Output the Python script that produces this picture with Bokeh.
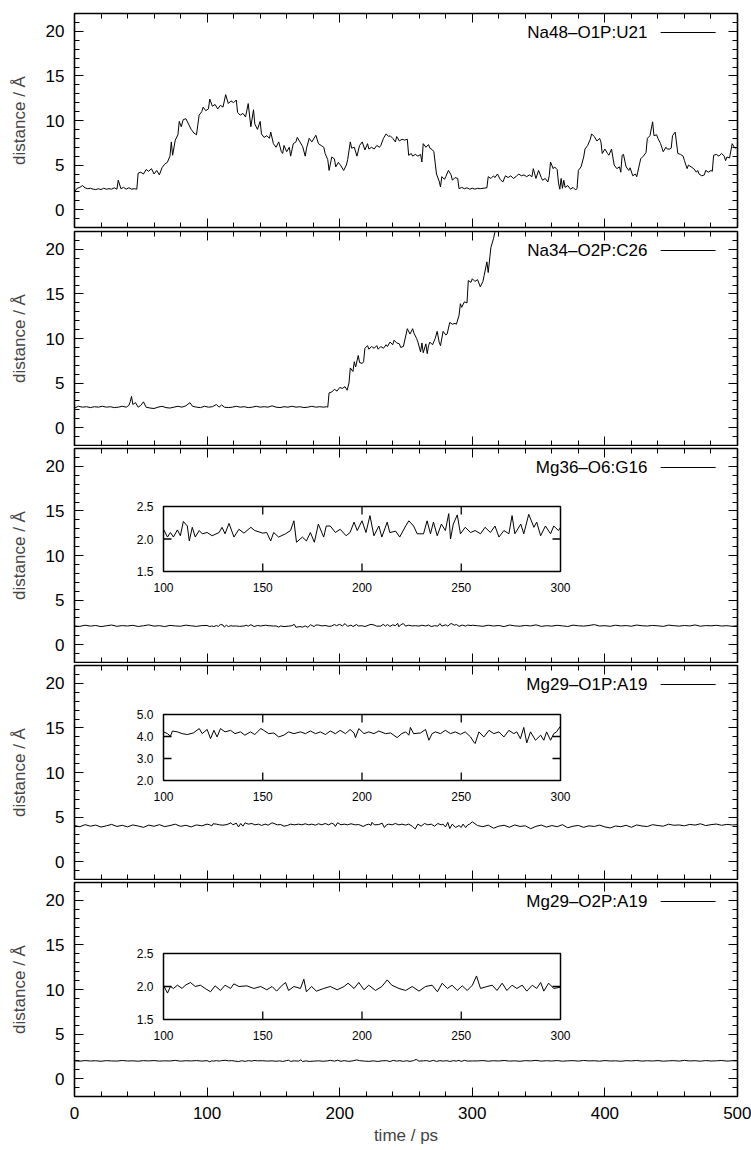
import math
from bokeh.plotting import figure
from bokeh.models import Range1d, LinearAxis, SingleIntervalTicker
from bokeh.layouts import column
from bokeh.embed import file_html
from bokeh.resources import INLINE
from bokeh.core.properties import value

# ---------------- data (time / ps, distance / Angstrom) ----------------
NA48_O1P_U21 = [
    (0, 2.0), (2, 2.4), (4, 2.5), (6, 2.7), (8, 2.45), (10, 2.35), (12, 2.4), (14, 2.3), (16, 2.25), (18, 2.35),
    (20, 2.25), (22, 2.4), (24, 2.3), (26, 2.35), (28, 2.3), (30, 2.45), (32, 2.3), (33, 3.3), (35, 2.35), (37, 2.5),
    (39, 2.3), (41, 2.45), (43, 2.3), (45, 2.35), (47, 2.3), (48, 4.1), (50, 4.2), (52, 4.0), (54, 4.5), (56, 4.3),
    (58, 4.6), (60, 4.0), (62, 4.4), (64, 3.9), (66, 4.7), (68, 5.1), (70, 5.3), (72, 6.0), (73, 7.6), (74, 6.1),
    (76, 7.8), (78, 8.4), (79, 9.9), (80.5, 9.3), (82, 10.1), (84, 10.2), (86, 9.6), (88, 9.0), (90, 8.6), (92, 8.4),
    (94, 10.6), (96, 11.0), (97, 11.5), (99, 11.1), (101, 11.3), (102, 12.4), (104, 11.6), (106, 11.8), (108, 11.3),
    (110, 11.7), (112, 11.5), (114, 12.9), (116, 11.9), (118, 12.2), (120, 12.0), (122, 12.3), (123, 10.9), (125, 10.6),
    (127, 10.8), (129, 10.4), (131, 11.9), (133, 9.3), (135, 11.2), (136, 9.6), (138, 9.0), (140, 9.9), (141, 8.5),
    (143, 8.1), (145, 8.3), (147, 8.0), (148, 8.7), (150, 7.4), (152, 7.0), (154, 7.6), (156, 6.5), (157, 6.3),
    (158, 7.2), (160, 6.5), (162, 7.0), (163, 6.0), (165, 7.4), (167, 7.6), (168, 8.1), (170, 7.6), (172, 7.1),
    (174, 6.0), (175, 6.9), (177, 8.0), (179, 7.6), (182, 8.35), (184, 7.4), (186, 7.2), (188, 7.0), (189, 6.3),
    (191, 5.6), (192, 4.4), (194, 5.9), (196, 5.7), (197, 4.8), (199, 5.3), (201, 4.9), (203, 4.4), (205, 5.0),
    (206, 5.6), (208, 7.6), (209, 6.9), (211, 7.0), (213, 6.0), (215, 7.2), (217, 7.6), (219, 6.7), (221, 7.4),
    (222, 6.8), (224, 7.0), (226, 6.8), (228, 7.2), (230, 7.0), (231, 7.2), (233, 8.0), (235, 8.5), (237, 8.2),
    (238, 8.3), (240, 8.0), (242, 7.6), (243, 8.2), (245, 7.7), (247, 7.9), (249, 7.8), (251, 7.9), (252, 6.1),
    (254, 6.3), (255, 6.0), (257, 6.2), (259, 6.0), (261, 6.2), (262, 5.35), (263, 7.4), (265, 7.0), (267, 7.3),
    (268, 6.9), (270, 6.7), (271, 6.5), (273, 4.0), (275, 3.2), (276, 2.55), (277, 3.7), (279, 3.4), (280, 3.7),
    (282, 4.4), (284, 3.9), (285, 3.3), (287, 3.6), (289, 3.5), (290, 2.35), (292, 2.5), (294, 2.35), (296, 2.45),
    (298, 2.3), (300, 2.4), (302, 2.3), (304, 2.4), (306, 2.35), (308, 2.4), (311, 2.45), (312, 3.7), (314, 3.5),
    (316, 3.8), (317, 3.6), (319, 4.0), (321, 3.4), (323, 3.1), (325, 3.8), (327, 3.6), (329, 3.8), (331, 3.5),
    (333, 3.7), (335, 4.0), (337, 3.8), (339, 3.9), (341, 3.7), (343, 3.9), (345, 3.7), (346, 4.6), (348, 3.5),
    (350, 4.4), (352, 3.6), (353, 3.3), (355, 3.5), (357, 3.1), (358, 3.8), (359, 5.35), (361, 4.6), (362, 4.8),
    (364, 4.5), (365, 3.0), (366, 2.3), (367, 3.5), (368, 2.4), (369, 3.3), (370, 2.5), (372, 2.7), (374, 2.3),
    (376, 2.5), (378, 2.2), (379, 2.4), (380, 4.4), (382, 4.8), (384, 5.9), (385, 6.8), (387, 7.2), (389, 7.9),
    (390, 8.5), (392, 8.2), (394, 7.7), (396, 8.0), (397, 7.6), (398, 6.3), (400, 6.8), (402, 6.3), (403, 6.1),
    (405, 6.8), (407, 5.0), (409, 4.6), (411, 4.8), (412, 4.2), (413, 6.1), (414, 6.2), (416, 4.8), (418, 4.4),
    (419, 4.7), (421, 3.8), (423, 4.0), (424, 3.7), (427, 5.7), (429, 6.0), (431, 6.4), (432, 8.0), (434, 8.3),
    (436, 9.85), (437, 8.3), (439, 8.4), (440, 8.0), (442, 7.4), (444, 6.5), (446, 7.0), (447, 6.8), (449, 6.8),
    (450, 6.9), (451, 8.3), (453, 8.7), (455, 6.3), (457, 6.2), (459, 6.0), (460, 5.5), (462, 4.6), (463, 5.0),
    (465, 4.8), (467, 4.6), (469, 4.2), (470, 4.4), (471, 4.0), (473, 3.8), (475, 3.9), (476, 4.4), (478, 4.2),
    (480, 4.4), (481, 4.3), (482, 6.1), (484, 6.2), (486, 6.0), (488, 6.3), (490, 6.0), (491, 5.5), (492, 5.9),
    (494, 5.8), (496, 7.4), (498, 6.9), (500, 7.0),
]

NA34_O2P_C26 = [
    (0, 2.2), (3, 2.4), (6, 2.3), (9, 2.35), (12, 2.25), (15, 2.35), (18, 2.3), (21, 2.4), (24, 2.3), (27, 2.35),
    (30, 2.25), (33, 2.3), (36, 2.4), (39, 2.3), (41, 2.5), (42, 2.9), (43, 3.5), (44, 2.6), (46, 2.8), (48, 2.3),
    (50, 2.5), (52, 2.9), (54, 2.3), (57, 2.2), (60, 2.15), (63, 2.3), (66, 2.4), (69, 2.25), (72, 2.2), (75, 2.3),
    (78, 2.4), (81, 2.3), (84, 2.45), (87, 2.8), (89, 2.4), (92, 2.3), (95, 2.25), (98, 2.4), (101, 2.3), (104, 2.35),
    (107, 2.6), (109, 2.3), (111, 2.55), (113, 2.3), (116, 2.25), (119, 2.3), (122, 2.4), (125, 2.3), (128, 2.35),
    (131, 2.25), (134, 2.3), (137, 2.4), (140, 2.3), (143, 2.35), (146, 2.3), (149, 2.45), (152, 2.3), (155, 2.25),
    (158, 2.35), (161, 2.3), (164, 2.4), (167, 2.3), (170, 2.35), (173, 2.25), (176, 2.3), (179, 2.4), (182, 2.3),
    (185, 2.35), (188, 2.3), (190, 2.35), (191, 2.3), (192, 3.9), (194, 4.0), (196, 4.3), (198, 4.1), (200, 4.5),
    (202, 4.4), (204, 4.6), (205.6, 4.2), (207, 5.0), (208, 6.7), (210, 6.3), (211, 7.4), (212, 6.8), (214, 8.1),
    (215, 7.3), (217, 7.2), (218, 7.4), (219, 8.9), (221, 9.2), (222, 8.8), (224, 9.1), (226, 8.9), (228, 9.2),
    (229, 8.8), (231, 9.1), (233, 8.9), (235, 9.3), (236, 9.1), (238, 9.6), (240, 9.3), (241, 9.8), (243, 9.5),
    (245, 9.4), (246, 9.0), (248, 9.1), (251, 11.1), (253, 10.5), (255, 11.1), (256, 10.6), (258, 10.0), (259, 9.6),
    (261, 8.5), (262, 9.5), (263, 8.4), (265, 9.4), (266, 8.3), (267, 9.2), (268, 9.6), (270, 9.3), (272, 10.0),
    (273.5, 10.8), (275, 9.6), (276, 9.2), (278, 10.8), (280, 10.4), (281, 10.5), (283, 11.8), (285, 11.6),
    (287, 11.7), (288, 11.6), (290, 12.6), (291, 13.9), (292, 13.5), (294, 14.1), (296, 14.0), (297, 16.5),
    (299, 16.3), (300, 16.7), (302, 16.4), (304, 16.6), (306, 15.8), (308, 16.4), (309, 17.1), (311, 18.6),
    (312, 17.4), (314, 20.2), (316, 21.2), (317, 21.9), (318, 22.6), (320, 23.5),
]

MG36_O6_G16 = [
    (0, 2.10), (4, 2.05), (8, 2.18), (12, 2.08), (16, 2.15), (20, 2.02), (24, 2.12), (28, 2.20), (32, 2.06),
    (36, 2.14), (40, 2.09), (44, 2.17), (48, 2.04), (52, 2.12), (56, 2.22), (60, 2.08), (64, 2.13), (68, 2.03),
    (72, 2.16), (76, 2.10), (80, 2.07), (84, 2.19), (88, 2.11), (92, 2.05), (96, 2.14),
    (100, 2.15), (102, 2.03), (103.5, 2.10), (105, 2.03), (107, 2.14), (108.5, 2.05), (110, 2.27), (112, 2.20),
    (113, 1.97), (114.5, 2.18), (116, 2.03), (118, 2.13), (119.5, 2.08), (122, 2.10), (124.5, 2.05), (128, 2.10),
    (129.5, 2.18), (131, 2.08), (133, 2.24), (135.5, 2.03), (138, 2.15), (140.5, 2.09), (144, 2.18), (146, 2.13),
    (150, 2.09), (152, 2.10), (154, 1.97), (155.5, 2.10), (158, 2.03), (161.5, 2.08), (164, 2.13), (165.7, 2.28),
    (167, 1.95), (170, 2.03), (172, 1.97), (174, 2.10), (176, 1.95), (178, 2.23), (180.7, 2.03), (182, 2.20),
    (184, 2.20), (186.6, 2.10), (189, 2.15), (192, 2.05), (194, 2.10), (196, 2.26), (197.6, 2.13), (200, 2.28),
    (202, 2.10), (204, 2.36), (206, 2.05), (208.5, 2.20), (210, 2.03), (212.7, 2.26), (214, 2.10), (217, 2.12),
    (219, 2.03), (222, 2.20), (223.6, 2.28), (226, 2.20), (227.8, 2.08), (231, 2.08), (232.8, 2.28), (234.5, 2.08),
    (236, 2.26), (237.9, 2.05), (240, 2.23), (242, 2.13), (243.7, 2.39), (244.6, 2.00), (246, 2.23), (248, 2.37),
    (249.6, 2.08), (252, 2.18), (254.7, 2.10), (257, 2.13), (259.7, 2.08), (262, 2.18), (264.7, 2.10), (267, 2.20),
    (269, 2.03), (271.5, 2.13), (274, 2.08), (275.6, 2.36), (277, 2.08), (280, 2.23), (281.5, 2.08), (284, 2.38),
    (286.6, 2.18), (288, 2.26), (290, 2.05), (292.4, 2.20), (295, 2.08), (296.6, 2.20), (299, 2.13), (300, 2.18),
    (304, 2.12), (308, 2.06), (312, 2.18), (316, 2.09), (320, 2.15), (324, 2.03), (328, 2.20), (332, 2.11),
    (336, 2.07), (340, 2.16), (344, 2.10), (348, 2.22), (352, 2.05), (356, 2.13), (360, 2.08), (364, 2.17),
    (368, 2.11), (372, 2.04), (376, 2.19), (380, 2.12), (384, 2.08), (388, 2.15), (392, 2.25), (396, 2.09),
    (400, 2.13), (404, 2.06), (408, 2.18), (412, 2.10), (416, 2.14), (420, 2.07), (424, 2.20), (428, 2.12),
    (432, 2.09), (436, 2.16), (440, 2.11), (444, 2.05), (448, 2.19), (452, 2.13), (456, 2.08), (460, 2.15),
    (464, 2.10), (468, 2.21), (472, 2.07), (476, 2.14), (480, 2.11), (484, 2.17), (488, 2.09), (492, 2.13),
    (496, 2.06), (500, 2.12),
]

MG29_O1P_A19 = [
    (0, 4.05), (4, 3.92), (8, 4.15), (12, 3.98), (16, 4.10), (20, 3.88), (24, 4.02), (28, 4.18), (32, 3.95),
    (36, 4.08), (40, 3.90), (44, 4.12), (48, 4.00), (52, 3.85), (56, 4.10), (60, 3.97), (64, 4.15), (68, 3.93),
    (72, 4.05), (76, 4.20), (80, 3.96), (84, 4.08), (88, 3.90), (92, 4.12), (96, 4.02),
    (100, 4.21), (102, 4.13), (103.5, 4.01), (104.5, 4.25), (107, 4.21), (109.4, 4.13), (112, 4.09), (115, 4.16),
    (118, 4.36), (119.5, 4.13), (122, 4.32), (123.7, 3.90), (125.4, 4.28), (127, 3.98), (128.7, 4.36), (131, 4.21),
    (133.8, 4.28), (136, 4.13), (138.8, 4.21), (141, 4.06), (143.8, 4.21), (146, 4.09), (149, 4.36), (150.5, 4.28),
    (153, 4.13), (155.6, 4.16), (158, 3.98), (160.6, 4.06), (163, 4.21), (165.7, 4.13), (169, 4.21), (171.5, 4.13),
    (174, 4.25), (176.6, 4.13), (179, 4.21), (181.6, 4.09), (184, 4.25), (186.6, 4.13), (189, 4.28), (191.7, 4.13),
    (194, 4.32), (196, 4.16), (196.7, 3.95), (198.4, 4.36), (201, 4.13), (203.4, 4.21), (206, 4.13), (208.5, 4.25),
    (211.8, 4.13), (214.4, 4.16), (217.7, 3.95), (220, 4.13), (222, 4.21), (223.6, 4.06), (224.4, 4.41),
    (226, 4.13), (229.5, 4.16), (232, 4.32), (233.7, 3.83), (235.3, 4.13), (237, 4.21), (239.5, 4.13), (242, 4.28),
    (244.6, 4.13), (247, 4.21), (249.6, 4.10), (252, 4.21), (254.7, 3.98), (256.3, 3.75), (257, 3.68),
    (258.9, 4.21), (261.4, 3.98), (264, 4.28), (266.4, 4.13), (269, 4.21), (271.5, 3.98), (274, 4.28),
    (276.5, 4.13), (278, 4.21), (279.8, 3.90), (281.5, 4.41), (283, 3.71), (284.9, 4.21), (287.4, 3.83),
    (290, 4.06), (291.6, 3.83), (293, 4.21), (295, 3.83), (296.6, 4.13), (298, 4.21), (300, 4.47),
    (304, 4.05), (308, 3.92), (312, 4.10), (316, 3.75), (320, 3.98), (324, 4.08), (328, 3.86), (332, 4.12),
    (336, 3.95), (340, 4.02), (344, 3.70), (348, 3.96), (352, 4.10), (356, 3.88), (360, 4.05), (364, 3.92),
    (368, 4.15), (372, 3.80), (376, 3.98), (380, 4.06), (384, 3.85), (388, 4.02), (392, 3.95), (396, 4.10),
    (400, 3.90), (404, 3.78), (408, 4.00), (412, 3.92), (416, 4.08), (420, 3.85), (424, 4.12), (428, 4.00),
    (432, 3.94), (436, 4.15), (440, 4.05), (444, 3.98), (448, 4.20), (452, 4.08), (456, 4.12), (460, 4.02),
    (464, 4.18), (468, 4.10), (472, 4.25), (476, 4.05), (480, 4.15), (484, 4.22), (488, 4.08), (492, 4.18),
    (496, 4.12), (500, 4.15),
]

MG29_O2P_A19 = [
    (0, 2.00), (4, 1.96), (8, 2.03), (12, 1.98), (16, 2.01), (20, 1.95), (24, 2.02), (28, 1.99), (32, 1.97),
    (36, 2.04), (40, 1.98), (44, 2.00), (48, 1.96), (52, 2.02), (56, 1.99), (60, 2.03), (64, 1.97), (68, 2.00),
    (72, 1.98), (76, 2.05), (80, 1.96), (84, 2.01), (88, 1.99), (92, 2.03), (96, 1.97),
    (100, 2.02), (102, 1.90), (103.5, 2.00), (105, 1.97), (107, 2.02), (109.4, 1.97), (111, 2.02), (113.6, 2.06),
    (116, 2.00), (118.6, 2.02), (121, 1.97), (123.7, 1.92), (126, 2.01), (128.7, 1.94), (131, 2.02), (133.8, 1.97),
    (135.4, 2.04), (138, 2.00), (142, 2.01), (145.5, 1.97), (149, 2.00), (152, 1.95), (154.7, 2.00), (157, 1.93),
    (159.8, 2.02), (161.5, 2.06), (163, 1.94), (165.7, 2.00), (169, 1.97), (170.7, 2.11), (172, 1.92),
    (174.6, 2.00), (177, 1.93), (180.7, 1.97), (184, 2.00), (187.5, 1.95), (191, 2.00), (193, 2.05), (196, 1.97),
    (198.4, 2.06), (201, 1.95), (203.4, 2.02), (206.8, 1.94), (210, 2.00), (212.7, 2.10), (215, 2.02),
    (218.6, 1.97), (222, 1.94), (225.3, 2.00), (228.7, 1.93), (232, 2.00), (235.3, 2.02), (238, 1.92),
    (240.4, 2.05), (243, 1.97), (245.4, 2.02), (248, 1.94), (250.5, 2.01), (253, 1.94), (255.6, 2.02),
    (257.7, 2.16), (259.7, 1.97), (263, 2.00), (265.6, 2.02), (268, 1.94), (270.6, 2.05), (273, 1.94),
    (275.6, 2.02), (278, 1.97), (280.7, 2.02), (283, 1.93), (285.8, 2.02), (288, 1.97), (290, 2.06),
    (291.6, 1.93), (294, 2.05), (296.6, 1.97), (300, 1.99),
    (304, 1.99), (308, 2.03), (312, 1.96), (316, 2.01), (320, 1.98), (324, 2.04), (328, 1.97), (332, 2.00),
    (336, 1.95), (340, 2.02), (344, 1.99), (348, 2.05), (352, 1.97), (356, 2.01), (360, 1.98), (364, 2.03),
    (368, 1.96), (372, 2.00), (376, 2.02), (380, 1.97), (384, 2.04), (388, 1.99), (392, 2.01), (396, 1.96),
    (400, 2.03), (404, 1.98), (408, 2.00), (412, 1.95), (416, 2.02), (420, 1.99), (424, 2.04), (428, 1.97),
    (432, 2.01), (436, 1.98), (440, 2.03), (444, 1.96), (448, 2.00), (452, 2.02), (456, 1.97), (460, 2.05),
    (464, 1.99), (468, 2.01), (472, 1.96), (476, 2.03), (480, 1.98), (484, 2.00), (488, 2.04), (492, 1.97),
    (496, 2.01), (500, 1.99),
]

SERIES_LABELS = ["Na48\u2013O1P:U21", "Na34\u2013O2P:C26", "Mg36\u2013O6:G16", "Mg29\u2013O1P:A19", "Mg29\u2013O2P:A19"]
SERIES_DATA = [NA48_O1P_U21, NA34_O2P_C26, MG36_O6_G16, MG29_O1P_A19, MG29_O2P_A19]

X_RANGE = (0, 500)
Y_RANGE = (-2, 22)
X_TICK_INTERVAL = 100
Y_TICK_INTERVAL = 5

INSET_X_RANGE = (100, 300)
INSET_X_TICKS = [100, 150, 200, 250, 300]
# panel index -> (y limits, y tick labels)
INSETS = {
    2: ((1.5, 2.5), [1.5, 2.0, 2.5]),
    3: ((2.0, 5.0), [2.0, 3.0, 4.0, 5.0]),
    4: ((1.5, 2.5), [1.5, 2.0, 2.5]),
}

# ---------------- layout / style ----------------
FONT = "Liberation Sans"
FRAME_W, FRAME_H = 663, 214
BORDER_LEFT, BORDER_RIGHT = 74, 14
# (top border, bottom border) per panel
BORDERS = [(13, 2), (2, 1), (2, 1), (2, 1), (2, 54)]
# inset boxes in frame pixels: (left, top, right, bottom)
INSET_BOX = {2: (89, 58, 486, 123), 3: (89, 49, 486, 115), 4: (89, 71, 486, 137)}
INSET_TOP_TICKS = {2: True, 3: True, 4: False}
LEGEND_TEXT_FX = 0.864
LEGEND_LINE_FX = (0.884, 0.967)
LEGEND_OFFSET_PX = 19


def fx(frac):
    return X_RANGE[0] + frac * (X_RANGE[1] - X_RANGE[0])


def fy_from_top(px):
    return Y_RANGE[1] - px * (Y_RANGE[1] - Y_RANGE[0]) / FRAME_H


def style_axis(ax, show_labels):
    ax.major_tick_in = 9
    ax.major_tick_out = 0
    ax.minor_tick_in = 5
    ax.minor_tick_out = 0
    ax.major_tick_line_color = "black"
    ax.minor_tick_line_color = "black"
    ax.major_tick_line_width = 1
    ax.minor_tick_line_width = 1
    ax.axis_line_color = None
    if show_labels:
        ax.major_label_text_font = FONT
        ax.major_label_text_font_size = "17px"
        ax.major_label_text_color = "black"
        ax.major_label_standoff = 10
    else:
        ax.major_label_text_font_size = "0px"
        ax.major_label_standoff = 0
        ax.major_label_text_color = None


def add_inset(p, data, idx):
    (y0, y1), yticks = INSETS[idx]
    x0, x1 = INSET_X_RANGE
    left, top, right, bottom = INSET_BOX[idx]
    sx = (x1 - x0) / (right - left)
    sy = (y1 - y0) / (bottom - top)
    xs = x0 - left * sx
    ys = y0 - (FRAME_H - bottom) * sy
    p.extra_x_ranges["ix"] = Range1d(xs, xs + FRAME_W * sx)
    p.extra_y_ranges["iy"] = Range1d(ys, ys + FRAME_H * sy)
    kw = dict(x_range_name="ix", y_range_name="iy")
    p.quad(left=[x0], right=[x1], bottom=[y0], top=[y1], fill_color="white",
           line_color="black", line_width=1.5, **kw)
    sel = [(t, d) for t, d in data if x0 <= t <= x1]
    p.line([t for t, d in sel], [d for t, d in sel], line_color="black", line_width=1, **kw)
    inner_x = [t for t in INSET_X_TICKS if x0 < t < x1]
    p.ray(x=inner_x, y=[y0] * len(inner_x), length=8, length_units="screen", angle=math.pi / 2,
          line_color="black", line_width=1.3, **kw)
    if INSET_TOP_TICKS[idx]:
        p.ray(x=inner_x, y=[y1] * len(inner_x), length=8, length_units="screen", angle=-math.pi / 2,
              line_color="black", line_width=1.3, **kw)
    inner_y = [v for v in yticks if y0 < v < y1]
    p.ray(x=[x0] * len(inner_y), y=inner_y, length=8, length_units="screen", angle=0,
          line_color="black", line_width=1.3, **kw)
    p.ray(x=[x1] * len(inner_y), y=inner_y, length=8, length_units="screen", angle=math.pi,
          line_color="black", line_width=1.3, **kw)
    p.text(x=INSET_X_TICKS, y=[y0] * len(INSET_X_TICKS), text=[str(t) for t in INSET_X_TICKS],
           y_offset=16, text_align="center", text_baseline="middle", text_font=value(FONT),
           text_font_size="12px", text_color="black", **kw)
    p.text(x=[x0] * len(yticks), y=yticks, text=["%.1f" % v for v in yticks],
           x_offset=-10, text_align="right", text_baseline="middle", text_font=value(FONT),
           text_font_size="12px", text_color="black", **kw)


figs = []
for i, (label, data) in enumerate(zip(SERIES_LABELS, SERIES_DATA)):
    top_b, bot_b = BORDERS[i]
    last = i == len(SERIES_LABELS) - 1
    p = figure(frame_width=FRAME_W, frame_height=FRAME_H,
               x_range=Range1d(*X_RANGE), y_range=Range1d(*Y_RANGE),
               x_axis_type=None, y_axis_type=None,
               output_backend="svg", toolbar_location=None,
               min_border_left=BORDER_LEFT, min_border_right=BORDER_RIGHT,
               min_border_top=top_b, min_border_bottom=bot_b)
    p.outline_line_color = "black"
    p.outline_line_width = 1.6
    p.background_fill_color = "white"
    p.border_fill_color = "white"

    yl = LinearAxis(ticker=SingleIntervalTicker(interval=Y_TICK_INTERVAL, num_minor_ticks=5))
    style_axis(yl, True)
    yl.axis_label = "distance / \u00c5"
    yl.axis_label_text_font = FONT
    yl.axis_label_text_font_size = "17px"
    yl.axis_label_text_font_style = "normal"
    yl.axis_label_standoff = 14
    p.add_layout(yl, "left")
    yr = LinearAxis(ticker=SingleIntervalTicker(interval=Y_TICK_INTERVAL, num_minor_ticks=5))
    style_axis(yr, False)
    p.add_layout(yr, "right")
    xb = LinearAxis(ticker=SingleIntervalTicker(interval=X_TICK_INTERVAL, num_minor_ticks=5))
    style_axis(xb, last)
    if last:
        xb.axis_label = "time / ps"
        xb.axis_label_text_font = FONT
        xb.axis_label_text_font_size = "17px"
        xb.axis_label_text_font_style = "normal"
        xb.axis_label_standoff = 4
    p.add_layout(xb, "below")
    xa = LinearAxis(ticker=SingleIntervalTicker(interval=X_TICK_INTERVAL, num_minor_ticks=5))
    style_axis(xa, False)
    p.add_layout(xa, "above")

    p.line([t for t, d in data], [d for t, d in data], line_color="black", line_width=1)

    ly = fy_from_top(LEGEND_OFFSET_PX)
    p.text(x=[fx(LEGEND_TEXT_FX)], y=[ly], text=[label], text_align="right", text_baseline="middle",
           text_font=value(FONT), text_font_size="17px", text_color="black")
    p.segment(x0=[fx(LEGEND_LINE_FX[0])], y0=[ly], x1=[fx(LEGEND_LINE_FX[1])], y1=[ly],
              line_color="black", line_width=1)

    if i in INSETS:
        add_inset(p, data, i)
    figs.append(p)

layout = column(*figs, spacing=0)
open("out.html", "w").write(file_html(layout, INLINE, title="distances"))
